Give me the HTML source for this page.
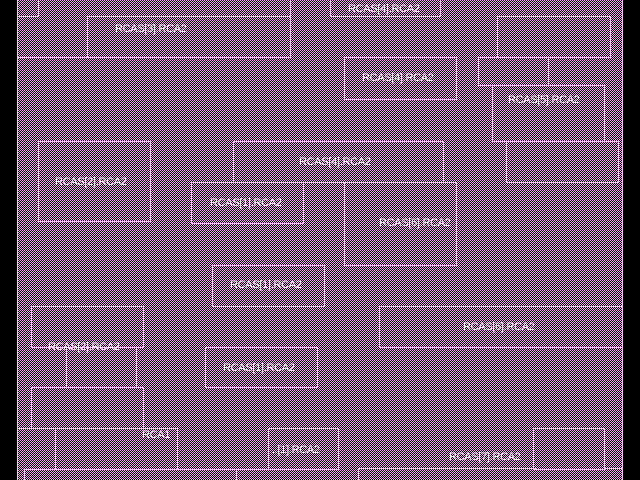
<!DOCTYPE html>
<html><head><style>
body{margin:0;width:640px;height:480px;background:#000;overflow:hidden;position:relative;font-family:"Liberation Sans",sans-serif}
svg{position:absolute;left:0;top:0}
.t{position:absolute;color:#fff;font-size:11px;white-space:nowrap;letter-spacing:-0.3px}
</style></head><body>
<svg width="640" height="480" shape-rendering="crispEdges">
<defs><pattern id="p" width="2" height="2" patternUnits="userSpaceOnUse">
<rect width="2" height="2" fill="#000"/><rect width="1" height="1" fill="#f4aaf0"/><rect x="1" y="1" width="1" height="1" fill="#f4aaf0"/></pattern></defs>
<rect x="17" y="0" width="606" height="480" fill="url(#p)"/>
<g fill="none" stroke="#f8c4f4" stroke-width="1">
<line x1="17.5" y1="0" x2="17.5" y2="480"/><line x1="622.5" y1="0" x2="622.5" y2="480"/>
<rect x="17.5" y="-2" width="21" height="18.5"/>
<rect x="87.5" y="16.5" width="203" height="41"/>
<polyline points="17,57.5 87,57.5"/>
<line x1="290.5" y1="0" x2="290.5" y2="16"/>
<rect x="330.5" y="-2" width="110" height="18.5"/>
<rect x="497.5" y="16.5" width="113" height="41"/>
<rect x="344.5" y="57.5" width="112" height="42"/>
<rect x="478.5" y="57.5" width="70" height="28"/>
<rect x="492.5" y="85.5" width="112" height="56"/>
<rect x="38.5" y="141.5" width="112" height="80"/>
<rect x="233.5" y="141.5" width="210" height="41"/>
<rect x="191.5" y="182.5" width="112" height="41"/>
<rect x="344.5" y="182.5" width="112" height="83"/>
<rect x="506.5" y="141.5" width="112" height="41"/>
<rect x="212.5" y="265.5" width="112" height="41"/>
<rect x="31.5" y="306.5" width="112" height="41"/>
<rect x="66.5" y="347.5" width="70" height="40"/>
<rect x="379.5" y="306.5" width="243" height="41"/>
<rect x="205.5" y="347.5" width="112" height="40"/>
<rect x="31.5" y="387.5" width="112" height="41"/>
<polyline points="17,428.5 55.5,428.5 55.5,470"/>
<polyline points="143.5,428.5 177.5,428.5 177.5,469.5 268,469.5"/>
<rect x="268.5" y="428.5" width="70" height="41"/>
<rect x="533.5" y="428.5" width="71" height="41"/>
<polyline points="358.5,480 358.5,468.5 536,468.5"/>
<polyline points="604.5,468.5 622,468.5"/>
<polyline points="24.5,480 24.5,469.5 236.5,469.5 236.5,480"/>
</g>
</svg>
<div class="t" style="left:115px;top:23px">RCAS[3].RCA2</div>
<div class="t" style="left:348px;top:3px">RCAS[4].RCA2</div>
<div class="t" style="left:362px;top:72px">RCAS[4].RCA2</div>
<div class="t" style="left:508px;top:94px">RCAS[5].RCA2</div>
<div class="t" style="left:299px;top:156px">RCAS[4].RCA2</div>
<div class="t" style="left:55px;top:176px">RCAS[2].RCA2</div>
<div class="t" style="left:210px;top:197px">RCAS[1].RCA2</div>
<div class="t" style="left:379px;top:217px">RCAS[6].RCA2</div>
<div class="t" style="left:230px;top:279px">RCAS[1].RCA2</div>
<div class="t" style="left:463px;top:321px">RCAS[6].RCA2</div>
<div class="t" style="left:48px;top:341px">RCAS[2].RCA2</div>
<div class="t" style="left:223px;top:362px">RCAS[1].RCA2</div>
<div class="t" style="left:142px;top:429px">RCA1</div>
<div class="t" style="left:272px;top:444px">..[1].RCA2</div>
<div class="t" style="left:449px;top:451px">RCAS[7].RCA2</div>
</body></html>
